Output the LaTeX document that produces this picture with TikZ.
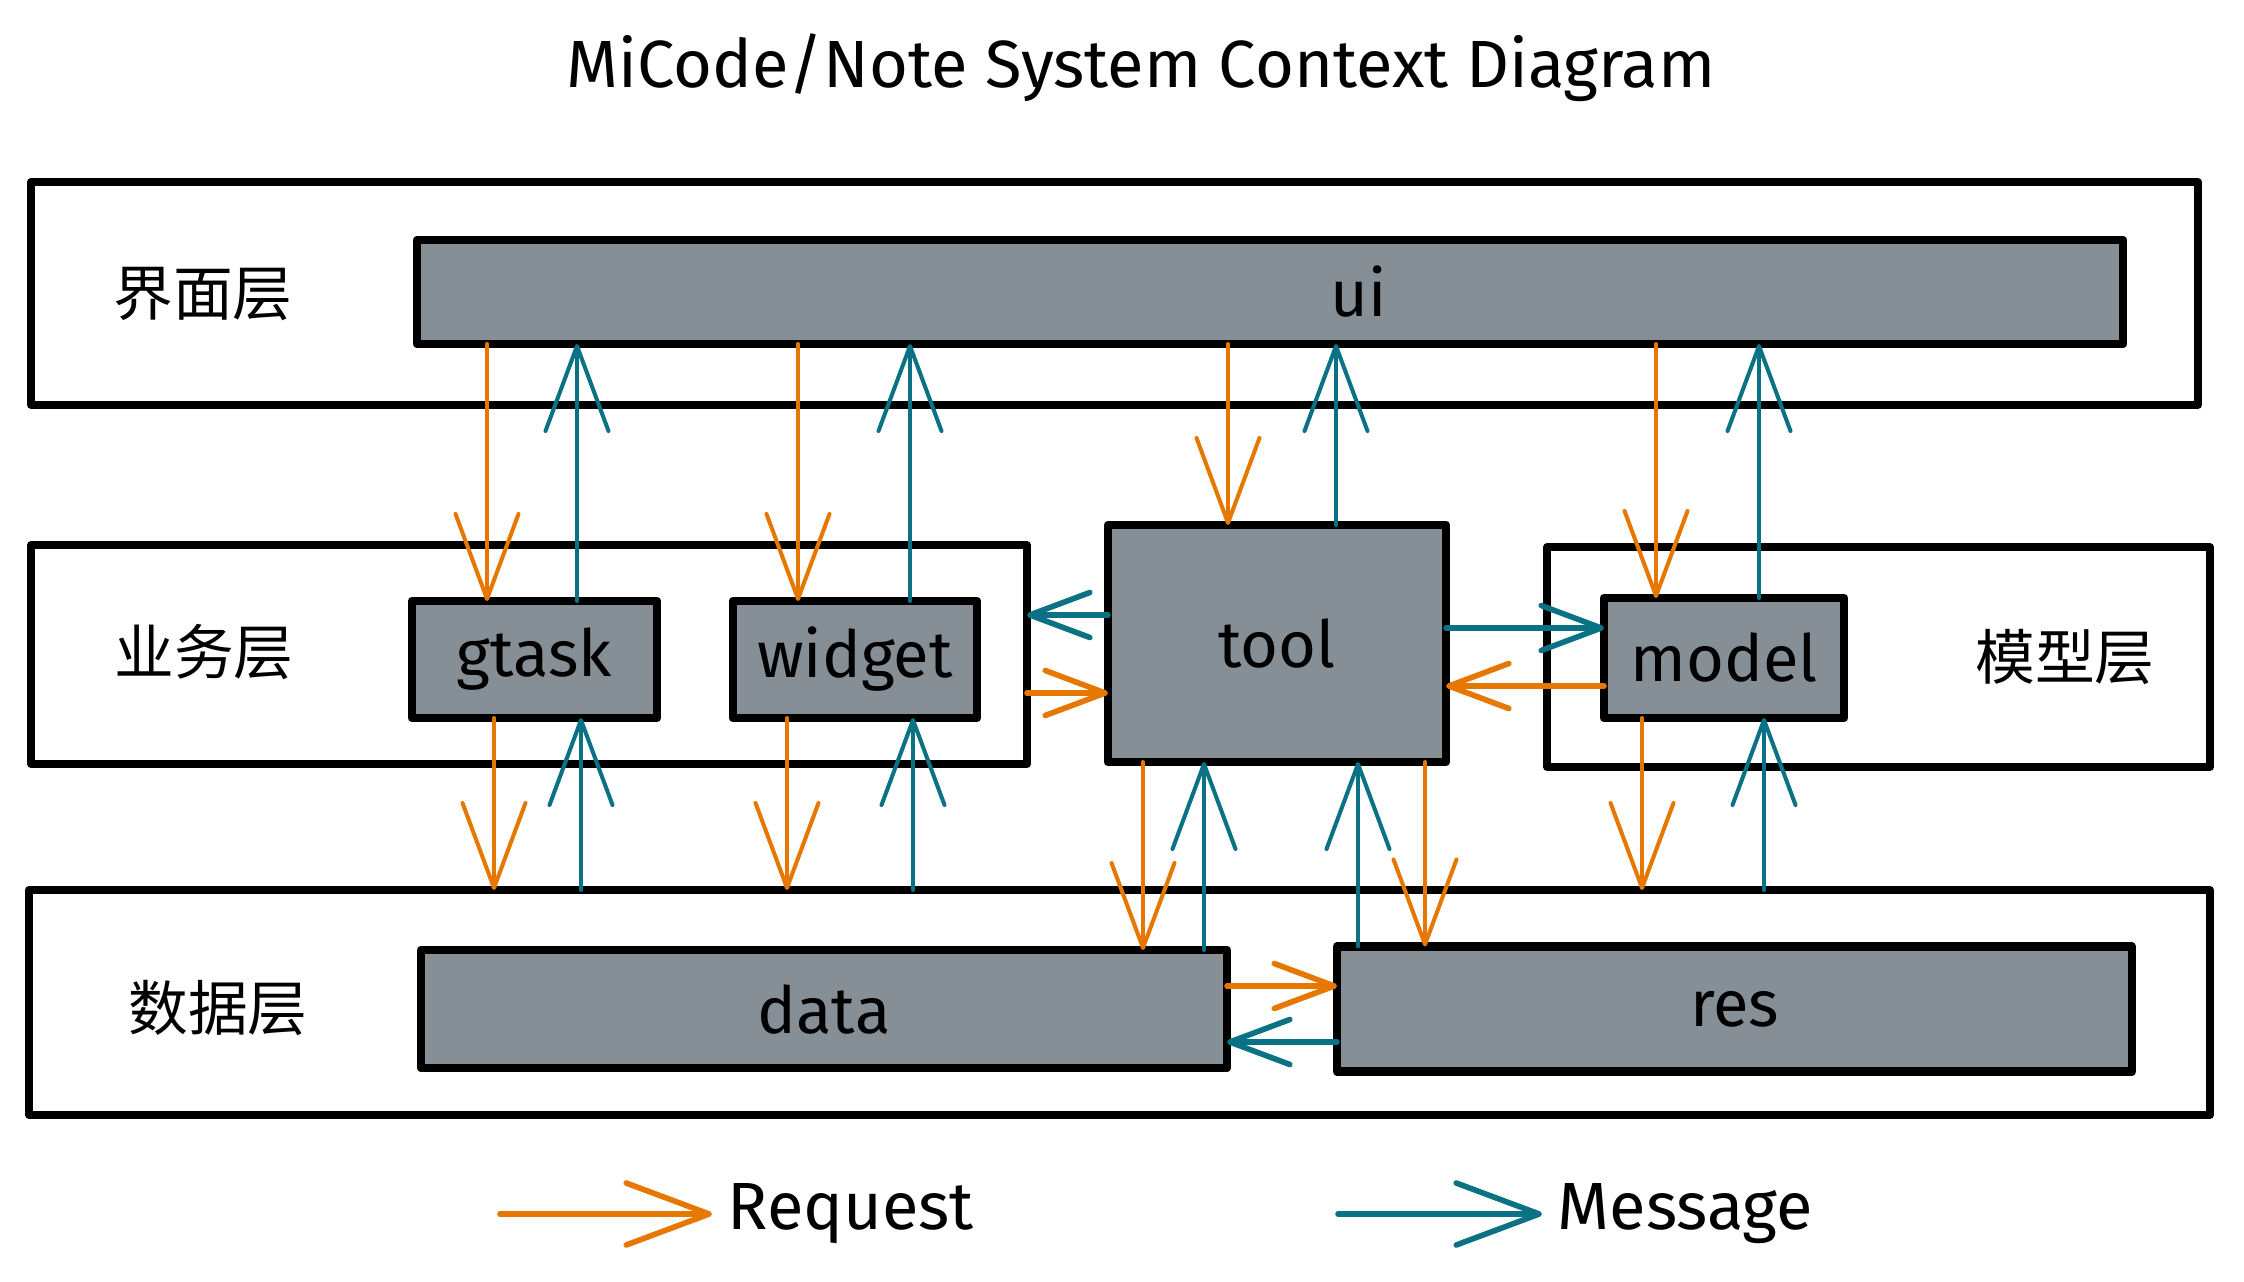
\documentclass[tikz,border=0pt]{standalone}
\usepackage{fontspec}
\setmainfont{Fira Sans}
\newfontfamily\cjkfont{Noto Sans CJK SC}
\usepackage{xcolor}
\usetikzlibrary{arrows.meta,positioning,calc}
\definecolor{reqorange}{HTML}{E67700}
\definecolor{msgteal}{HTML}{0B7285}
\definecolor{boxgray}{HTML}{868E96}

\begin{document}
\begin{tikzpicture}[line cap=round, line join=round]
\tikzstyle{layer}=[draw=black,line width=2.2pt,fill=white,inner sep=0pt,outer sep=0pt]
\tikzstyle{block}=[draw=black,line width=2.4pt,fill=boxgray,inner sep=0pt,outer sep=0pt,font=\fontsize{18.5}{22}\selectfont]
\tikzstyle{tag}=[font=\cjkfont\fontsize{17}{20}\selectfont]
\tikzstyle{req}=[draw=reqorange,line width=1.15pt,-{Straight Barb[length=8.5mm,width=6.3mm,round]}]
\tikzstyle{msg}=[draw=msgteal,line width=1.15pt,-{Straight Barb[length=8.5mm,width=6.3mm,round]}]
\tikzstyle{side}=[line width=1.6pt,-{Straight Barb[length=6mm,width=4.5mm,round]}]
\tikzstyle{key}=[line width=1.6pt,-{Straight Barb[length=8.3mm,width=6.2mm,round]}]
\tikzstyle{key text}=[font=\fontsize{19}{23}\selectfont,inner sep=0.15cm]
\useasboundingbox (0,0) rectangle (22.44,12.81);

\node[font=\fontsize{19}{23}\selectfont,anchor=base] (title) at (11.41,11.93) {MiCode/Note System Context Diagram};

% layers
\node[layer,minimum width=21.67cm,minimum height=2.23cm] (uilayer)    at (11.145,9.875) {};
\node[layer,minimum width=9.96cm, minimum height=2.19cm] (bizlayer)   at (5.29,6.265)   {};
\node[layer,minimum width=6.63cm, minimum height=2.20cm] (modellayer) at (18.785,6.24)  {};
\node[layer,minimum width=21.81cm,minimum height=2.25cm] (datalayer)  at (11.195,2.785) {};

\node[tag] (uitag)    at (2.03,9.87)  {界面层};
\node[tag] (biztag)   at (2.04,6.29)  {业务层};
\node[tag] (modeltag) at (20.65,6.24) {模型层};
\node[tag] (datatag)  at (2.18,2.73)  {数据层};

% blocks
\node[block,minimum width=17.06cm,minimum height=1.04cm] (ui) at (12.70,9.89) {\hspace*{1.78cm}ui};
\node[block,minimum width=2.45cm,minimum height=1.17cm]  (gtask) at (5.345,6.215) {gtask};
\node[block,minimum width=2.44cm,minimum height=1.17cm]  (widget) [right=0.76cm of gtask] {widget};
\node[block,minimum width=3.38cm,minimum height=2.37cm]  (tool) at (12.77,6.375) {tool};
\node[block,minimum width=2.40cm,minimum height=1.20cm]  (model) at (17.24,6.23) {model};
\node[block,minimum width=8.06cm,minimum height=1.18cm]  (data) at (8.24,2.72) {data};
\node[block,minimum width=7.95cm,minimum height=1.25cm]  (res) [right=1.10cm of data] {res};

% ui <-> business / model
\path
(ui.south -| 4.87,0)      edge[req] (gtask.north -| 4.87,0)
(gtask.north -| 5.77,0)   edge[msg] (ui.south -| 5.77,0)
(ui.south -| 7.98,0)      edge[req] (widget.north -| 7.98,0)
(widget.north -| 9.10,0)  edge[msg] (ui.south -| 9.10,0)
(ui.south -| 12.28,0)     edge[req] (tool.north -| 12.28,0)
(tool.north -| 13.36,0)   edge[msg] (ui.south -| 13.36,0)
(ui.south -| 16.56,0)     edge[req] (model.north -| 16.56,0)
(model.north -| 17.59,0)  edge[msg] (ui.south -| 17.59,0);

% business / model <-> data
\path
(gtask.south -| 4.94,0)   edge[req] (datalayer.north -| 4.94,0)
(datalayer.north -| 5.81,0) edge[msg] (gtask.south -| 5.81,0)
(widget.south -| 7.87,0)  edge[req] (datalayer.north -| 7.87,0)
(datalayer.north -| 9.13,0) edge[msg] (widget.south -| 9.13,0)
(tool.south -| 11.43,0)   edge[req] (data.north -| 11.43,0)
(data.north -| 12.04,0)   edge[msg] (tool.south -| 12.04,0)
(res.north -| 13.58,0)    edge[msg] (tool.south -| 13.58,0)
(tool.south -| 14.25,0)   edge[req] (res.north -| 14.25,0)
(model.south -| 16.42,0)  edge[req] (datalayer.north -| 16.42,0)
(datalayer.north -| 17.64,0) edge[msg] (model.south -| 17.64,0);

% side links
\path
(tool.west |- 0,6.66)     edge[msg,side] (bizlayer.east |- 0,6.66)
(bizlayer.east |- 0,5.88) edge[req,side] (tool.west |- 0,5.88)
(tool.east |- 0,6.53)     edge[msg,side] (model.west |- 0,6.53)
(model.west |- 0,5.95)    edge[req,side] (tool.east |- 0,5.95)
(data.east |- 0,2.95)     edge[req,side] (res.west |- 0,2.95)
(res.west |- 0,2.39)      edge[msg,side] (data.east |- 0,2.39);

% legend
\coordinate (reqstart) at (5.00,0.67);
\node[key text,anchor=west] (reqkey) at (7.12,0.67) {Request};
\coordinate (msgstart) at (13.38,0.67);
\node[key text,anchor=west] (msgkey) at (15.42,0.67) {Message};
\path
(reqstart) edge[req,key] (reqkey.west)
(msgstart) edge[msg,key] (msgkey.west);
\end{tikzpicture}
\end{document}
